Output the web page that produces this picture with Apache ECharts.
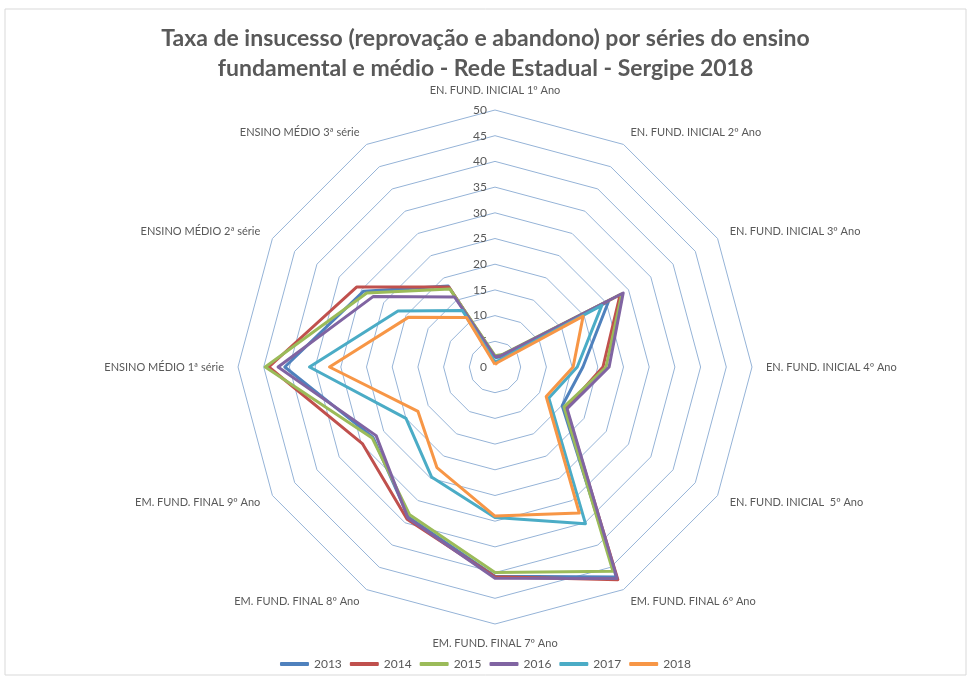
<!DOCTYPE html>
<html>
<head>
<meta charset="utf-8">
<script src="https://cdn.jsdelivr.net/npm/echarts@6/dist/echarts.min.js"></script>
<style>
    html, body { margin: 0; padding: 0; background: #fff; }
    #chart { width: 971px; height: 678px; }
</style>
</head>
<body>
<div id="chart"></div>
<script>
    // eixos do radar, sentido horário a partir do topo
    let categorias = [
        'EN. FUND. INICIAL 1º Ano', 'EN. FUND. INICIAL 2º Ano', 'EN. FUND. INICIAL 3º Ano',
        'EN. FUND. INICIAL 4º Ano', 'EN. FUND. INICIAL  5º Ano', 'EM. FUND. FINAL 6º Ano',
        'EM. FUND. FINAL 7º Ano', 'EM. FUND. FINAL 8º Ano', 'EM. FUND. FINAL 9º Ano',
        'ENSINO MÉDIO 1ª série', 'ENSINO MÉDIO 2ª série', 'ENSINO MÉDIO 3ª série'
    ];
    let anos = ['2013', '2014', '2015', '2016', '2017', '2018'];
    let cores = ['#4F81BD', '#C0504D', '#9BBB59', '#8064A2', '#4BACC6', '#F79646'];

    let taxa2013 = [1.8, 2.3, 25.5, 17.1, 15.1, 47.2, 40.7, 33.7, 27.4, 40.9, 29.5, 18.2];
    let taxa2014 = [2.0, 2.5, 28.1, 21.0, 16.0, 47.8, 40.8, 34.2, 29.8, 44.0, 31.1, 18.0];
    let taxa2015 = [2.2, 2.8, 28.5, 21.6, 15.5, 45.9, 40.0, 33.2, 27.6, 44.7, 28.8, 17.5];
    let taxa2016 = [2.0, 2.6, 28.8, 22.2, 16.2, 47.5, 41.1, 33.9, 26.7, 42.2, 27.4, 15.7];
    let taxa2017 = [1.0, 1.5, 24.0, 16.0, 12.1, 35.2, 29.3, 24.7, 20.0, 36.1, 21.8, 12.7];
    let taxa2018 = [0.5, 1.0, 19.8, 15.2, 11.5, 32.8, 29.0, 22.6, 17.3, 32.2, 19.4, 11.1];

    let valorMax = 50;
    let intervalo = 5;

    let CENTRO = [495, 367];
    let RAIO = 257;
    let FONTE = 'Lato';

    // o radar do echarts gira no sentido anti-horário: mantém o 1º no topo e inverte o resto
    function horario(arr) {
        return [arr[0]].concat(arr.slice(1).reverse());
    }

    let chart = echarts.init(document.getElementById('chart'));

    let series = [taxa2013, taxa2014, taxa2015, taxa2016, taxa2017, taxa2018].map(function (vals, i) {
        return {
            name: anos[i],
            type: 'radar',
            symbol: 'none',
            lineStyle: { color: cores[i], width: 3 },
            itemStyle: { color: cores[i] },
            data: [{ value: horario(vals), name: anos[i] }]
        };
    });

    chart.setOption({
        animation: false,
        title: {
            text: 'Taxa de insucesso (reprovação e abandono) por séries do ensino\nfundamental e médio - Rede Estadual - Sergipe 2018',
            left: 'center',
            top: 19,
            textStyle: {
                fontFamily: FONTE,
                fontWeight: 'bold',
                fontSize: 23,
                lineHeight: 30,
                color: '#595959'
            }
        },
        graphic: [{
            type: 'rect',
            shape: { x: 5, y: 9, width: 961, height: 666 },
            style: { fill: 'none', stroke: '#d9d9d9', lineWidth: 1 },
            silent: true
        }],
        legend: {
            data: anos,
            left: 'center',
            top: 653,
            icon: 'roundRect',
            itemWidth: 29,
            itemHeight: 4,
            itemGap: 8,
            textStyle: { color: '#595959', fontSize: 12, fontFamily: FONTE }
        },
        radar: {
            center: CENTRO,
            radius: RAIO,
            startAngle: 90,
            shape: 'polygon',
            splitNumber: valorMax / intervalo,
            nameGap: 14,
            axisName: { color: '#595959', fontSize: 11, fontFamily: FONTE },
            indicator: horario(categorias).map(function (c) { return { name: c, min: 0, max: valorMax }; }),
            axisLine: { show: false },
            axisTick: { show: false },
            axisLabel: { show: false },
            splitArea: { show: false },
            splitLine: { lineStyle: { color: '#95B3D7', width: 1 } }
        },
        // eixo polar só para os rótulos 0..50 no eixo do topo
        polar: { center: CENTRO, radius: RAIO },
        angleAxis: { show: false, startAngle: 90, min: 0, max: 360 },
        radiusAxis: {
            min: 0,
            max: valorMax,
            interval: intervalo,
            axisLine: { show: false },
            axisTick: { show: false },
            splitLine: { show: false },
            axisLabel: { color: '#595959', fontSize: 12, fontFamily: FONTE }
        },
        series: series
    });
</script>
</body>
</html>
